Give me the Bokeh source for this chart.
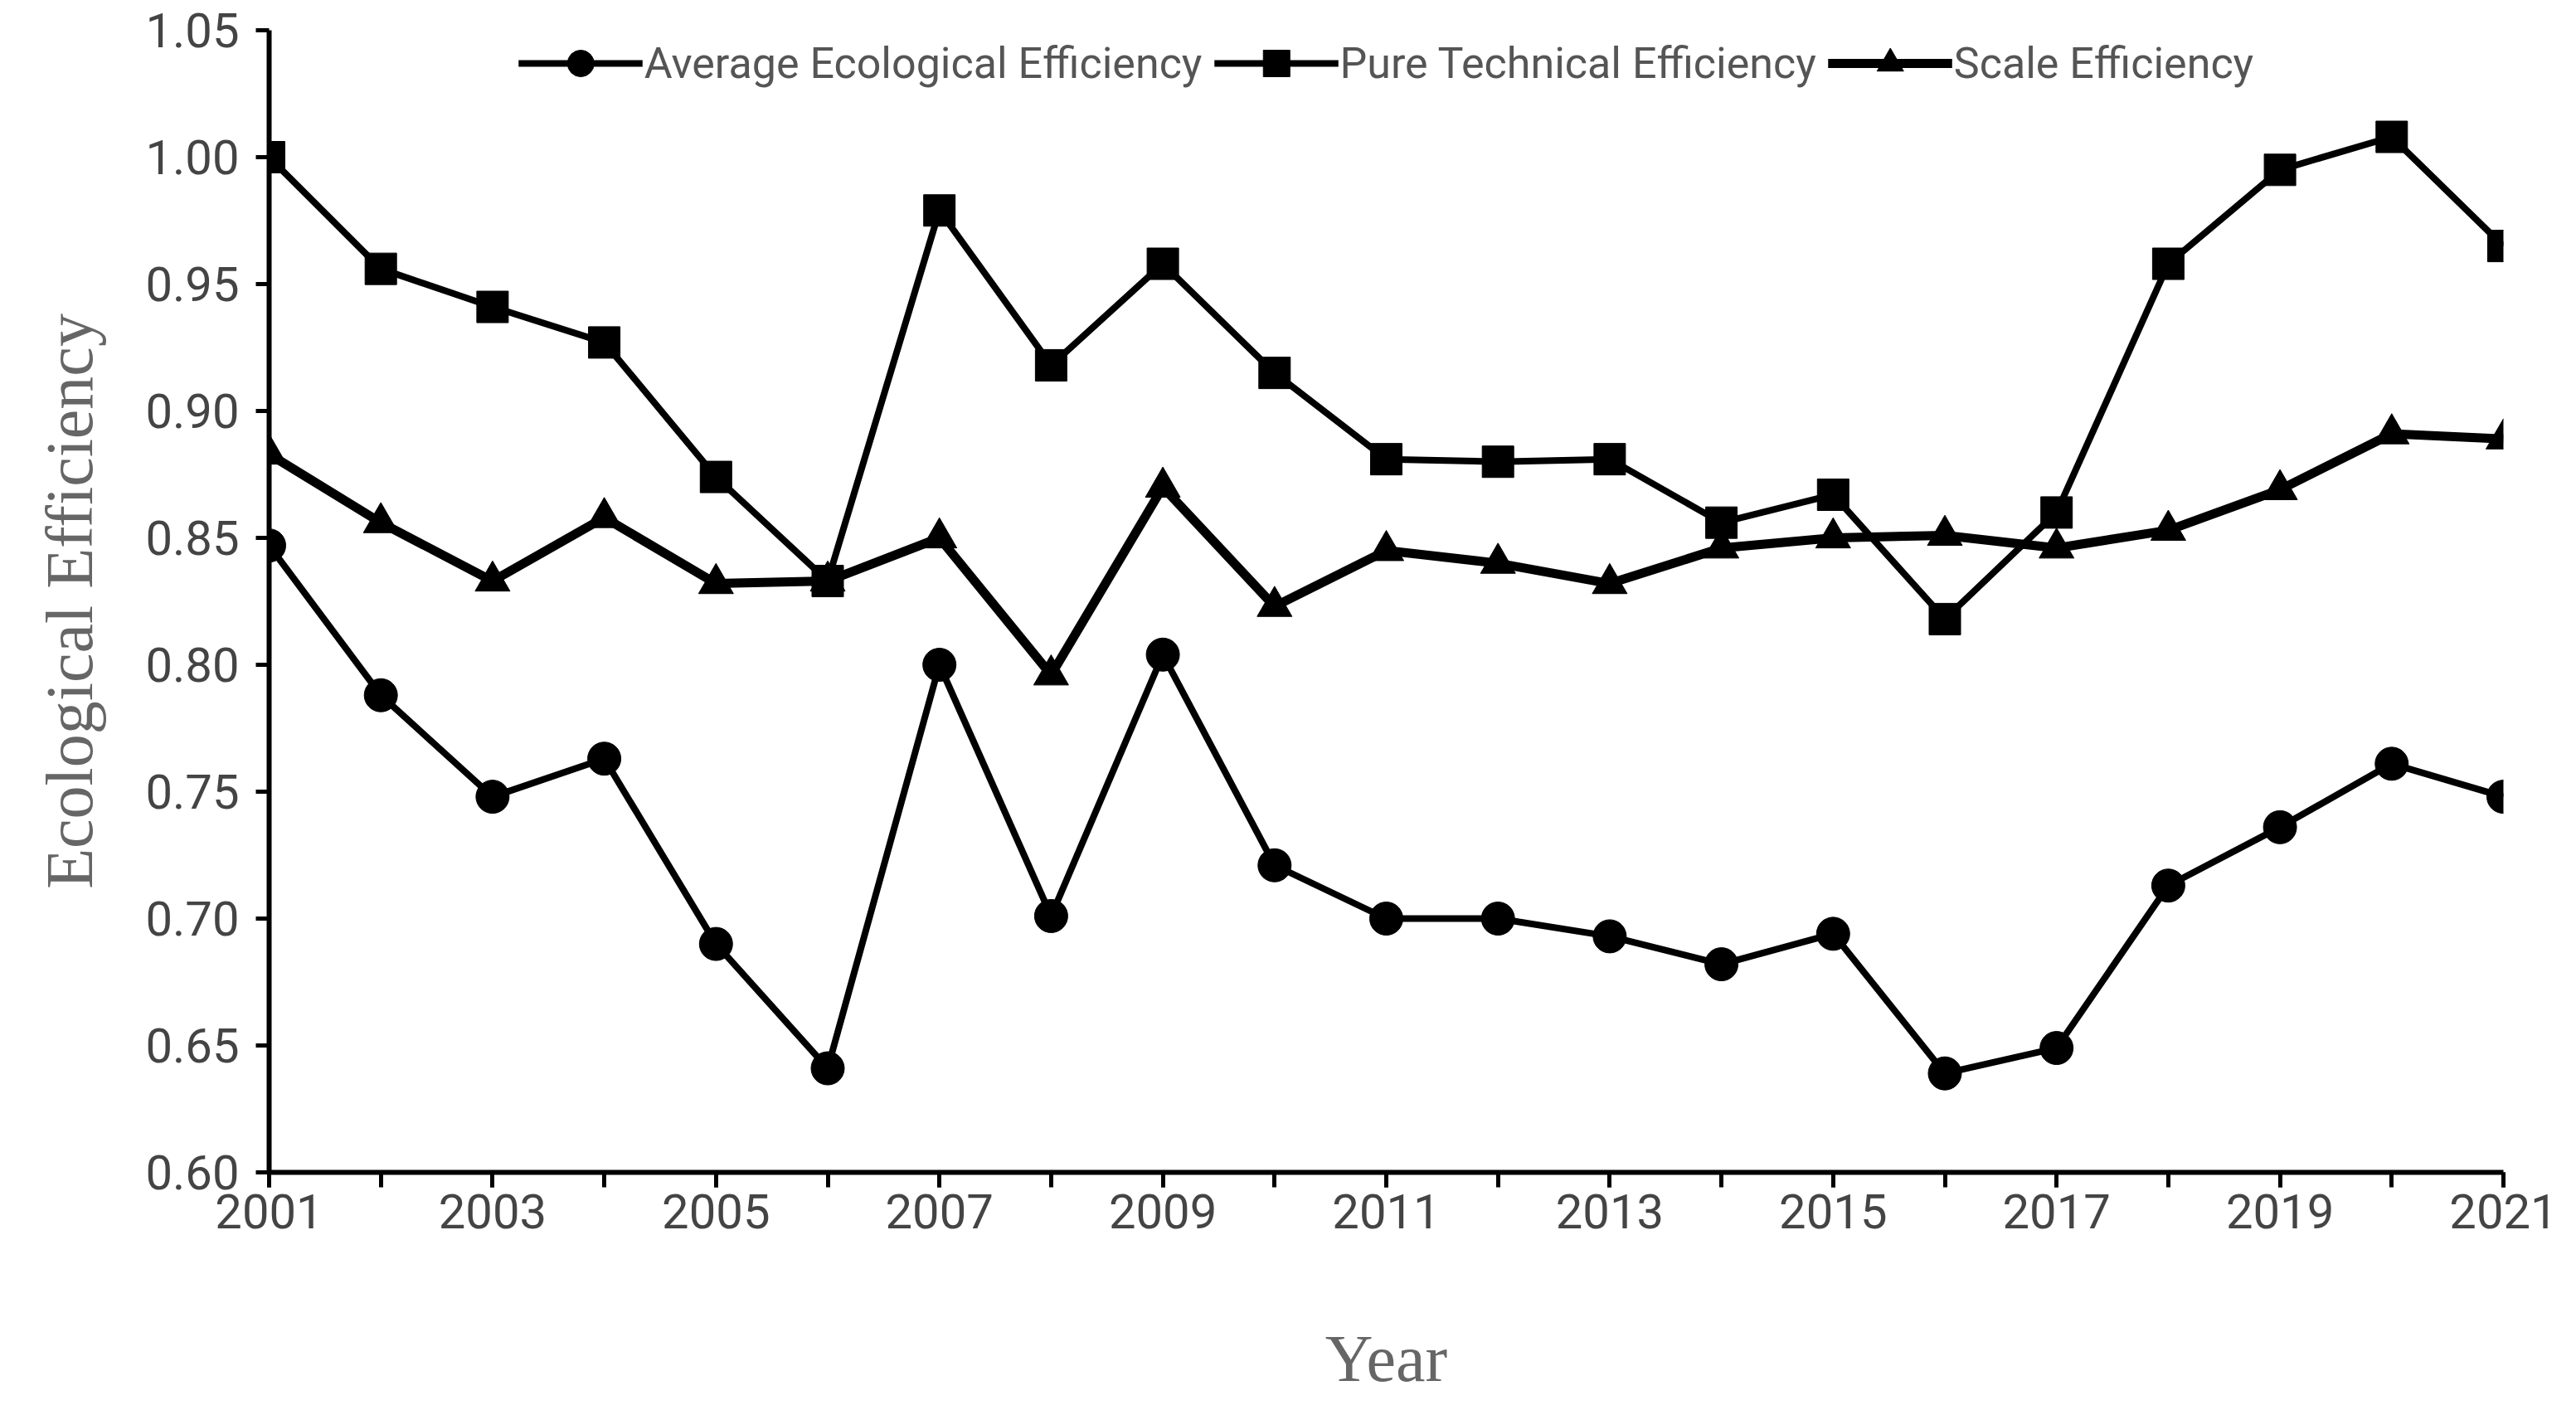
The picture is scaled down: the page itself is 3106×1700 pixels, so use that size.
from bokeh.plotting import figure
from bokeh.models import FixedTicker, Range1d, Legend, LegendItem, PrintfTickFormatter
from bokeh.embed import file_html
from bokeh.resources import INLINE

years = list(range(2001, 2022))
avg_eff = [0.847, 0.788, 0.748, 0.763, 0.690, 0.641, 0.800, 0.701, 0.804, 0.721, 0.700,
           0.700, 0.693, 0.682, 0.694, 0.639, 0.649, 0.713, 0.736, 0.761, 0.748]
pte = [1.000, 0.956, 0.941, 0.927, 0.874, 0.833, 0.979, 0.918, 0.958, 0.915, 0.881,
       0.880, 0.881, 0.856, 0.867, 0.818, 0.860, 0.958, 0.995, 1.008, 0.965]
se = [0.883, 0.856, 0.833, 0.858, 0.832, 0.833, 0.850, 0.796, 0.870, 0.823, 0.845,
      0.840, 0.832, 0.846, 0.850, 0.851, 0.846, 0.853, 0.869, 0.891, 0.889]
x_ticks = list(range(2001, 2022, 2))
y_ticks = [0.60, 0.65, 0.70, 0.75, 0.80, 0.85, 0.90, 0.95, 1.00, 1.05]

p = figure(width=3090, height=1684, output_backend="svg", toolbar_location=None,
           x_range=Range1d(2001, 2021), y_range=Range1d(0.6, 1.05),
           min_border_left=324, min_border_right=72, min_border_top=36, min_border_bottom=268)
p.outline_line_color = None
p.grid.visible = False

LW = 8
r1 = p.line(years, avg_eff, line_width=LW, color="black")
m1 = p.scatter(years, avg_eff, marker="circle", size=40, color="black")
r2 = p.line(years, pte, line_width=LW, color="black")
m2 = p.scatter(years, pte, marker="square", size=38, color="black")
r3 = p.line(years, se, line_width=LW + 3, color="black")
m3 = p.scatter(years, se, marker="triangle", size=42, color="black")

legend = Legend(items=[LegendItem(label="Average Ecological Efficiency", renderers=[r1, m1]),
                       LegendItem(label="Pure Technical Efficiency", renderers=[r2, m2]),
                       LegendItem(label="Scale Efficiency", renderers=[r3, m3])],
                orientation="horizontal", location="top", glyph_width=150, glyph_height=80,
                label_text_font="Liberation Sans Narrow, Roboto, sans-serif",
                label_text_font_size="52px", label_text_color="#555555",
                background_fill_alpha=0, border_line_color=None, spacing=14,
                label_standoff=2, margin=0, padding=0)
p.add_layout(legend)

for ax in (p.xaxis[0], p.yaxis[0]):
    ax.axis_line_width = 6
    ax.axis_line_color = "black"
    ax.major_tick_line_width = 5
    ax.minor_tick_line_width = 5
    ax.major_tick_line_color = "black"
    ax.minor_tick_line_color = "black"
    ax.major_tick_in = 0
    ax.minor_tick_in = 0
    ax.major_label_text_font = "Roboto"
    ax.major_label_text_font_size = "58px"
    ax.major_label_text_color = "#444444"
    ax.axis_label_text_font = "Liberation Serif"
    ax.axis_label_text_font_style = "normal"
    ax.axis_label_text_font_size = "80px"
    ax.axis_label_text_color = "#666666"

p.xaxis.ticker = FixedTicker(ticks=x_ticks, minor_ticks=years)
p.xaxis.major_tick_out = 18
p.xaxis.minor_tick_out = 18
p.xaxis.major_label_standoff = 8
p.xaxis.axis_label = "Year"
p.xaxis.axis_label_standoff = 110

p.yaxis.ticker = FixedTicker(ticks=y_ticks, minor_ticks=[])
p.yaxis.formatter = PrintfTickFormatter(format="%.2f")
p.yaxis.major_tick_out = 16
p.yaxis.major_label_standoff = 20
p.yaxis.axis_label = "Ecological Efficiency"
p.yaxis.axis_label_standoff = 44

open("out.html", "w").write(file_html(p, INLINE))
